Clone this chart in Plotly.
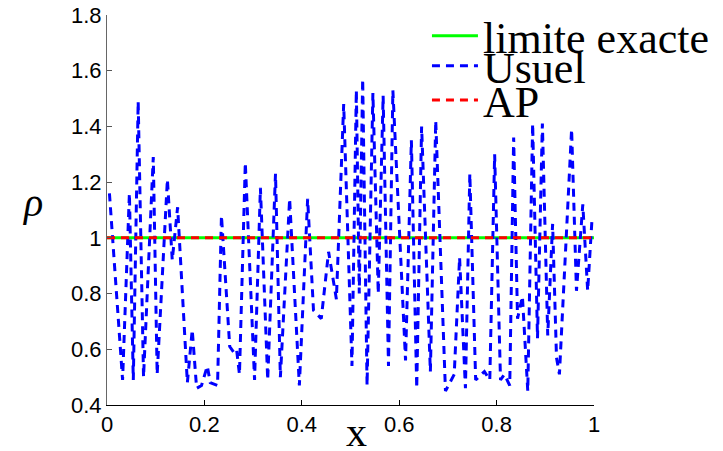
import plotly.graph_objects as go

# Data
x_usuel = [0.005, 0.032, 0.046, 0.054, 0.064, 0.075, 0.095, 0.103, 0.124, 0.134,
           0.145, 0.165, 0.175, 0.184, 0.194, 0.206, 0.212, 0.227, 0.235, 0.252,
           0.260, 0.266, 0.272, 0.284, 0.303, 0.315, 0.330, 0.346, 0.356, 0.375,
           0.395, 0.412, 0.424, 0.440, 0.455, 0.471, 0.486, 0.503, 0.512, 0.518,
           0.525, 0.534, 0.546, 0.557, 0.567, 0.578, 0.587, 0.613, 0.625, 0.636,
           0.646, 0.664, 0.675, 0.695, 0.713, 0.724, 0.736, 0.745, 0.757, 0.775,
           0.786, 0.796, 0.808, 0.816, 0.827, 0.835, 0.843, 0.853, 0.864, 0.874,
           0.884, 0.894, 0.905, 0.915, 0.923, 0.929, 0.954, 0.964, 0.977, 0.987,
           0.996]
rho_usuel = [1.16, 0.49, 1.16, 0.49, 1.49, 0.50, 1.29, 0.51, 1.21, 0.92,
             1.11, 0.48, 0.67, 0.46, 0.47, 0.54, 0.48, 0.47, 1.08, 0.61,
             0.59, 0.60, 0.51, 1.27, 0.49, 1.18, 0.49, 1.23, 0.50, 1.14,
             0.47, 1.14, 0.74, 0.71, 0.95, 0.78, 1.48, 0.54, 1.53, 0.80,
             1.57, 0.47, 1.52, 0.80, 1.51, 0.54, 1.53, 0.56, 1.35, 0.46,
             1.40, 0.52, 1.42, 0.45, 0.51, 0.93, 0.46, 1.23, 0.49, 0.52,
             0.49, 1.30, 0.49, 0.51, 0.47, 1.36, 0.71, 0.79, 0.45, 1.41,
             0.64, 1.41, 0.65, 1.05, 0.57, 0.51, 1.39, 0.81, 1.12, 0.81,
             1.07]

x_exact = [0.0, 1.0]
rho_exact = [1.0, 1.0]
x_ap = [0.0, 1.0]
rho_ap = [1.0, 1.0]

x_ticks = [0, 0.2, 0.4, 0.6, 0.8, 1]
x_ticklabels = ["0", "0.2", "0.4", "0.6", "0.8", "1"]
y_ticks = [0.4, 0.6, 0.8, 1.0, 1.2, 1.4, 1.6, 1.8]
y_ticklabels = ["0.4", "0.6", "0.8", "1", "1.2", "1.4", "1.6", "1.8"]

DASH = "8px,6px"

fig = go.Figure()
fig.add_trace(go.Scatter(x=x_exact, y=rho_exact, mode="lines", name="limite exacte",
                         line=dict(color="#00ff00", width=3), legend="legend"))
fig.add_trace(go.Scatter(x=x_usuel, y=rho_usuel, mode="lines", name="Usuel",
                         line=dict(color="#0000ff", width=3, dash=DASH), legend="legend2"))
fig.add_trace(go.Scatter(x=x_ap, y=rho_ap, mode="lines", name="AP",
                         line=dict(color="#ff0000", width=3, dash=DASH), legend="legend3"))

leg_font = dict(family="Liberation Serif, Times New Roman, serif", size=44, color="black")
leg_common = dict(font=leg_font, bgcolor="rgba(0,0,0,0)", borderwidth=0,
                  xanchor="left", yanchor="middle", x=0.657, itemwidth=46)

tick_font = dict(family="Liberation Sans, Arial, sans-serif", size=22, color="black")

fig.update_layout(
    width=723, height=451,
    margin=dict(l=107, r=129, t=15, b=46, autoexpand=False),
    paper_bgcolor="white", plot_bgcolor="white",
    showlegend=True,
    legend=dict(**leg_common, y=0.946),
    legend2=dict(**leg_common, y=0.869),
    legend3=dict(**leg_common, y=0.781),
    xaxis=dict(range=[0, 1], tickvals=x_ticks, ticktext=x_ticklabels,
               ticks="inside", ticklen=5, tickcolor="black", showline=True,
               linecolor="black", linewidth=1, showgrid=False, zeroline=False,
               automargin=False, tickfont=tick_font),
    yaxis=dict(range=[0.4, 1.8], tickvals=y_ticks, ticktext=y_ticklabels,
               ticks="inside", ticklen=5, tickcolor="#555", showline=True,
               linecolor="#666", linewidth=1, showgrid=False, zeroline=False,
               automargin=False, tickfont=tick_font),
    annotations=[
        dict(text="<i>ρ</i>", xref="paper", yref="paper", x=-0.152, y=0.52,
             showarrow=False, xanchor="center", yanchor="middle",
             font=dict(family="Liberation Serif, Times New Roman, serif", size=40, color="black")),
        dict(text="x", xref="paper", yref="paper", x=0.513, y=-0.07,
             showarrow=False, xanchor="center", yanchor="middle",
             font=dict(family="Liberation Serif, Times New Roman, serif", size=42, color="black")),
    ],
)

fig.write_html(
    "out.html",
    config={"displayModeBar": False},
    post_script="document.body.style.margin='0';document.body.style.overflow='hidden';"
                "document.documentElement.style.overflow='hidden';",
)
